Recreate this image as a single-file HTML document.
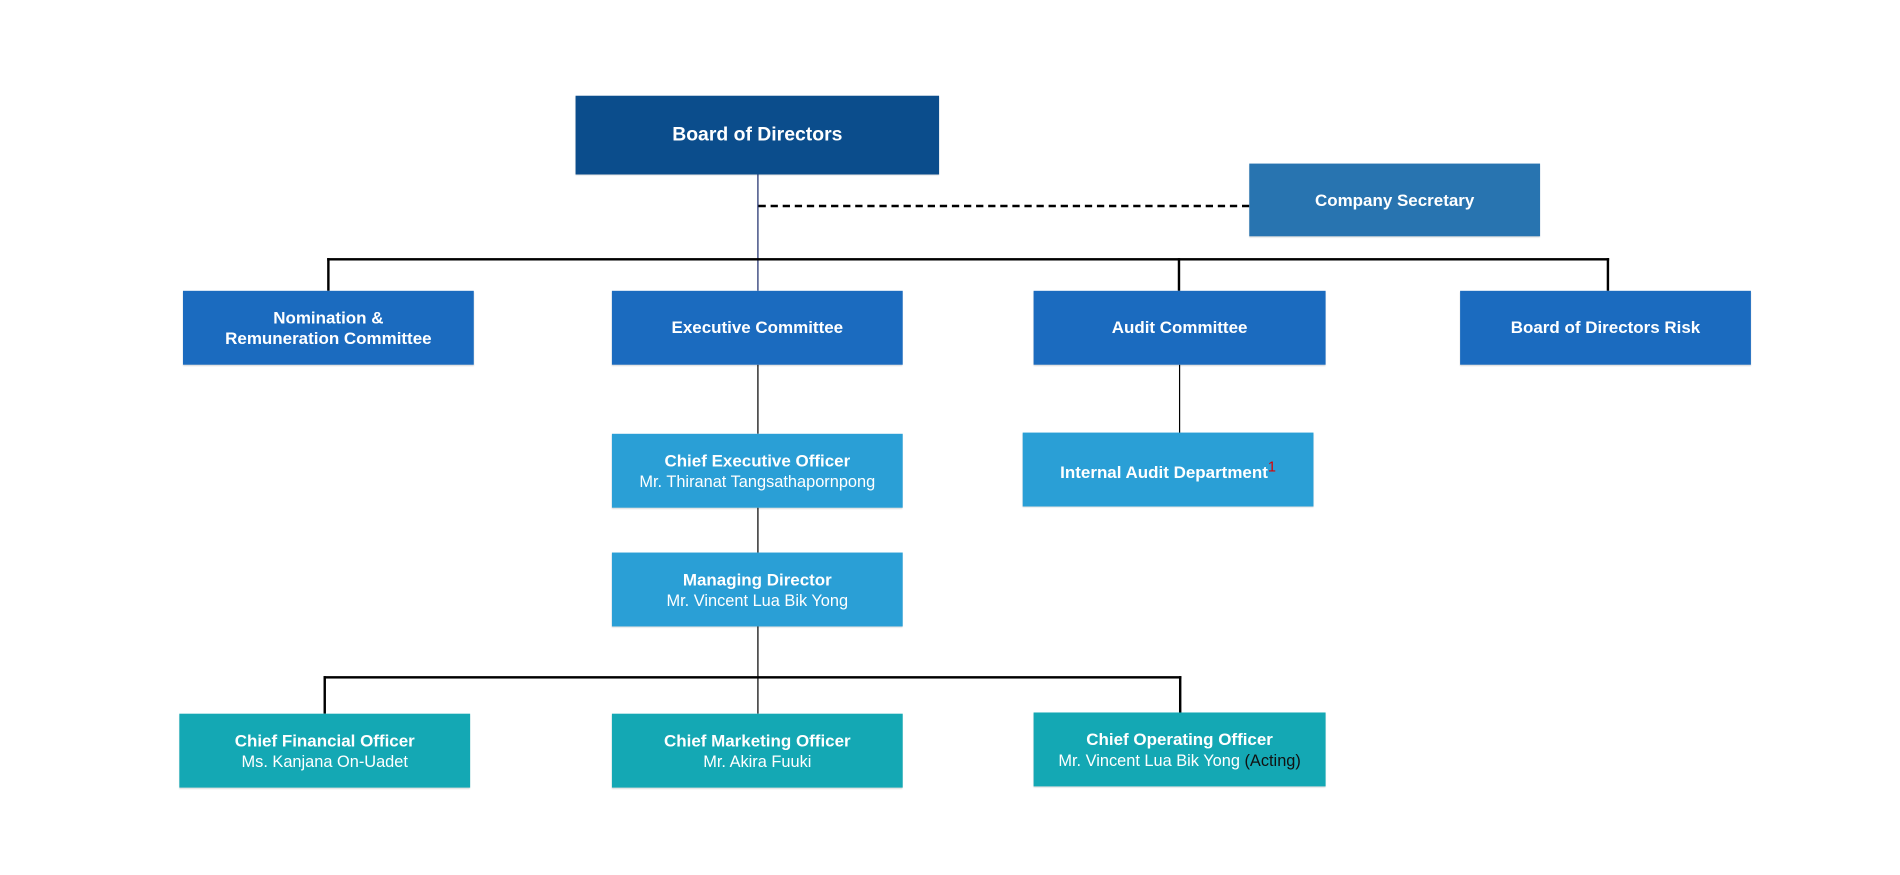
<!DOCTYPE html>
<html><head><meta charset="utf-8"><style>
html,body{margin:0;padding:0;background:#fff;width:1900px;height:875px;overflow:hidden}
#w{position:absolute;left:0;top:0;width:1568px;height:722px;transform:scale(1.2117);transform-origin:0 0;font-family:"Liberation Sans",sans-serif}
.b{position:absolute;color:#fff;display:flex;flex-direction:column;align-items:center;justify-content:center;text-align:center;font-size:13.5px;line-height:17px;box-shadow:0 1px 1px rgba(0,0,0,.15)}
.b b{font-weight:bold;font-size:14px}
.d{background:#1b6bbf}.c{background:#2a9fd6}.t{background:#14a8b4}
.l{position:absolute;background:#000}
</style></head><body><div id="w">
<div class="l" style="left:624.5px;top:144px;width:1.2px;height:96px;background:#1a2a6a"></div>
<div style="position:absolute;left:626px;top:169px;width:405px;border-top:2px dashed #000"></div>
<div class="l" style="left:270px;top:213px;width:1058px;height:2px"></div>
<div class="l" style="left:270px;top:213px;width:1.5px;height:27px"></div>
<div class="l" style="left:972px;top:213px;width:1.5px;height:27px"></div>
<div class="l" style="left:1326px;top:213px;width:1.5px;height:27px"></div>
<div class="l" style="left:624.5px;top:301px;width:1.5px;height:57px"></div>
<div class="l" style="left:972.5px;top:301px;width:1.5px;height:57px"></div>
<div class="l" style="left:624.5px;top:419px;width:1.5px;height:37px"></div>
<div class="l" style="left:624.5px;top:517px;width:1.5px;height:72px"></div>
<div class="l" style="left:267px;top:558px;width:708px;height:2px"></div>
<div class="l" style="left:267px;top:558px;width:1.5px;height:31px"></div>
<div class="l" style="left:973px;top:558px;width:1.5px;height:31px"></div>

<div class="b" style="left:475px;top:79px;width:300px;height:65px;background:#0b4d8c"><b style="font-size:16px">Board of Directors</b></div>
<div class="b" style="left:1031px;top:135px;width:240px;height:60px;background:#2874b0"><b>Company Secretary</b></div>
<div class="b d" style="left:151px;top:240px;width:240px;height:61px"><b>Nomination &amp;<br>Remuneration Committee</b></div>
<div class="b d" style="left:505px;top:240px;width:240px;height:61px"><b>Executive Committee</b></div>
<div class="b d" style="left:853px;top:240px;width:241px;height:61px"><b>Audit Committee</b></div>
<div class="b d" style="left:1205px;top:240px;width:240px;height:61px"><b>Board of Directors Risk</b></div>
<div class="b c" style="left:505px;top:358px;width:240px;height:61px"><b>Chief Executive Officer</b><span>Mr. Thiranat Tangsathapornpong</span></div>
<div class="b c" style="left:844px;top:357px;width:240px;height:61px"><b>Internal Audit Department<sup style="color:#d00;font-weight:normal;font-size:12px">1</sup></b></div>
<div class="b c" style="left:505px;top:456px;width:240px;height:61px"><b>Managing Director</b><span>Mr. Vincent Lua Bik Yong</span></div>
<div class="b t" style="left:148px;top:589px;width:240px;height:61px"><b>Chief Financial Officer</b><span>Ms. Kanjana On-Uadet</span></div>
<div class="b t" style="left:505px;top:589px;width:240px;height:61px"><b>Chief Marketing Officer</b><span>Mr. Akira Fuuki</span></div>
<div class="b t" style="left:853px;top:588px;width:241px;height:61px"><b>Chief Operating Officer</b><span>Mr. Vincent Lua Bik Yong <span style="color:#111">(Acting)</span></span></div>
</div></body></html>
